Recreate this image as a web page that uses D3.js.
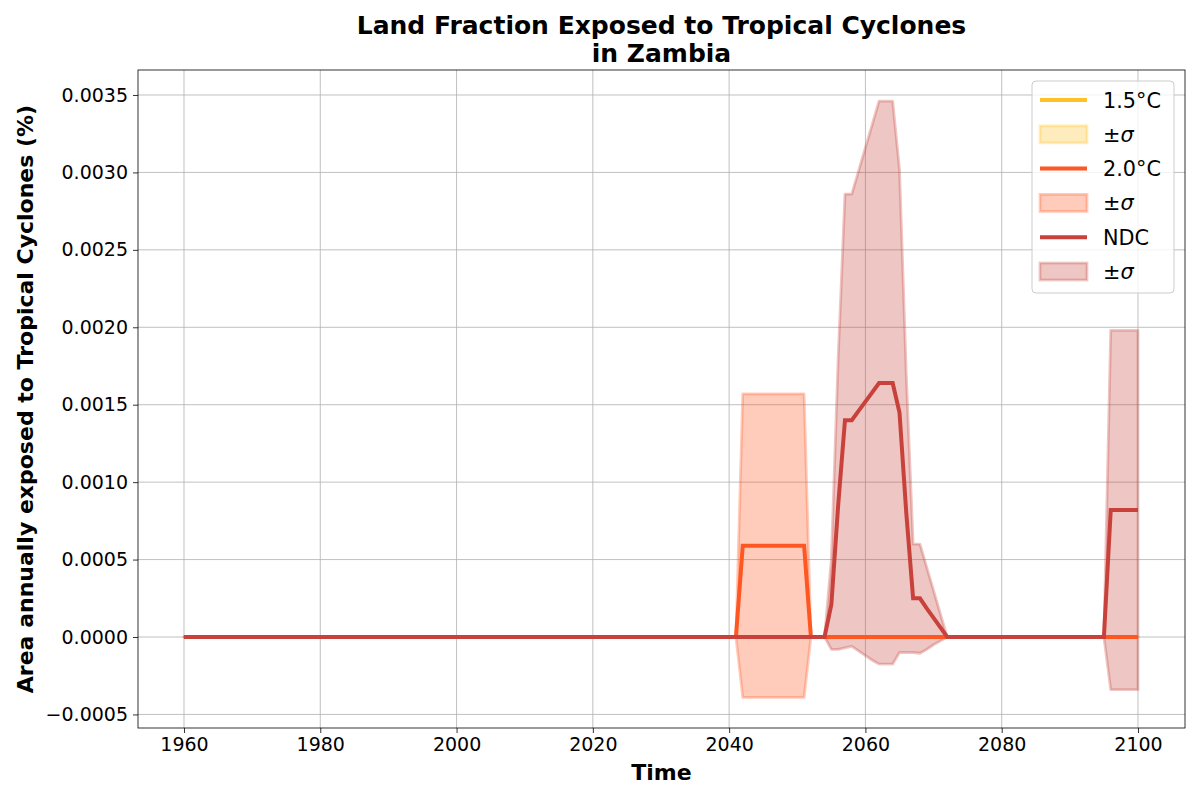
<!DOCTYPE html>
<html>
<head>
<meta charset="utf-8">
<script src="https://cdn.jsdelivr.net/npm/d3@7"></script>
<style>
  body { margin: 0; background: #fff; }
  text { font-family: "DejaVu Sans", sans-serif; }
</style>
</head>
<body>
<div id="chart"></div>
<script>
// 1.5°C: zero everywhere (hidden under the other series)
const years15 = [1960, 2100];
const mean15 = [0, 0];
const upper15 = [0, 0];
const lower15 = [0, 0];

// 2.0°C
const years20 = [1960, 2041, 2042, 2043, 2044, 2045, 2046, 2047, 2048, 2049, 2050, 2051, 2052, 2100];
const mean20 = [0, 0, 0.00059, 0.00059, 0.00059, 0.00059, 0.00059, 0.00059, 0.00059, 0.00059, 0.00059, 0.00059, 0, 0];
const upper20 = [0, 0, 0.00157, 0.00157, 0.00157, 0.00157, 0.00157, 0.00157, 0.00157, 0.00157, 0.00157, 0.00157, 0, 0];
const lower20 = [0, 0, -0.00039, -0.00039, -0.00039, -0.00039, -0.00039, -0.00039, -0.00039, -0.00039, -0.00039, -0.00039, 0, 0];

// NDC
const yearsNdc = [1960, 2054, 2055, 2056, 2057, 2058, 2059, 2060, 2061, 2062, 2063, 2064, 2065, 2066, 2067, 2068, 2069, 2070, 2071, 2072, 2095, 2096, 2097, 2098, 2099, 2100];
const meanNdc = [0, 0, 0.00021, 0.00085, 0.0014, 0.0014, 0.00146, 0.00152, 0.00158, 0.00164, 0.00164, 0.00164, 0.00145, 0.0008, 0.00025, 0.00025, 0.000185, 0.000124, 0.000062, 0, 0, 0.00082, 0.00082, 0.00082, 0.00082, 0.00082];
const upperNdc = [0, 0, 0.0005, 0.0018, 0.00286, 0.00286, 0.00301, 0.00316, 0.00331, 0.00346, 0.00346, 0.00346, 0.00302, 0.00169, 0.0006, 0.0006, 0.00045, 0.0003, 0.00015, 0, 0, 0.00198, 0.00198, 0.00198, 0.00198, 0.00198];
const lowerNdc = [0, 0, -0.00008, -0.00008, -0.00007, -0.00006, -0.00009, -0.00012, -0.00015, -0.000175, -0.000175, -0.000175, -0.0001, -0.0001, -0.0001, -0.000105, -0.00008, -0.00005, -0.000025, 0, 0, -0.00034, -0.00034, -0.00034, -0.00034, -0.00034];

const xTicks = [1960, 1980, 2000, 2020, 2040, 2060, 2080, 2100];
const yTicks = [-0.0005, 0, 0.0005, 0.001, 0.0015, 0.002, 0.0025, 0.003, 0.0035];

const seriesNames = ["1.5°C", "2.0°C", "NDC"];
const seriesColors = ["#ffc125", "#ff5722", "#c8413a"];

const series = [
  { name: seriesNames[0], color: seriesColors[0], years: years15, mean: mean15, upper: upper15, lower: lower15 },
  { name: seriesNames[1], color: seriesColors[1], years: years20, mean: mean20, upper: upper20, lower: lower20 },
  { name: seriesNames[2], color: seriesColors[2], years: yearsNdc, mean: meanNdc, upper: upperNdc, lower: lowerNdc },
];

const width = 1200, height = 800;
const margin = { top: 70, right: 15, bottom: 72, left: 138 };
const innerW = width - margin.left - margin.right;
const innerH = height - margin.top - margin.bottom;

const svg = d3.select("#chart").append("svg")
  .attr("width", width)
  .attr("height", height);

const g = svg.append("g")
  .attr("transform", "translate(" + margin.left + "," + margin.top + ")");

const x = d3.scaleLinear().domain([1953.25, 2106.9]).range([0, innerW]);
const y = d3.scaleLinear().domain([-0.0005876, 0.0036614]).range([innerH, 0]);

// grid
g.append("g")
  .selectAll("line")
  .data(xTicks)
  .enter()
  .append("line")
  .attr("x1", (d) => x(d)).attr("x2", (d) => x(d))
  .attr("y1", 0).attr("y2", innerH)
  .attr("stroke", "#b0b0b0").attr("stroke-width", 0.8);

g.append("g")
  .selectAll("line")
  .data(yTicks)
  .enter()
  .append("line")
  .attr("x1", 0).attr("x2", innerW)
  .attr("y1", (d) => y(d)).attr("y2", (d) => y(d))
  .attr("stroke", "#b0b0b0").attr("stroke-width", 0.8);

const area = d3.area()
  .x((d) => x(d.year))
  .y0((d) => y(d.lo))
  .y1((d) => y(d.hi));

const line = d3.line()
  .x((d) => x(d.year))
  .y((d) => y(d.v));

// bands first, lines on top
series.forEach(function (s) {
  const pts = s.years.map((yr, i) => ({ year: yr, lo: s.lower[i], hi: s.upper[i] }));
  g.append("path")
    .attr("d", area(pts))
    .attr("fill", s.color)
    .attr("fill-opacity", 0.3)
    .attr("stroke", s.color)
    .attr("stroke-opacity", 0.3)
    .attr("stroke-width", 2.8)
    .attr("stroke-linejoin", "round");
});

series.forEach(function (s) {
  const pts = s.years.map((yr, i) => ({ year: yr, v: s.mean[i] }));
  g.append("path")
    .attr("d", line(pts))
    .attr("fill", "none")
    .attr("stroke", s.color)
    .attr("stroke-width", 4)
    .attr("stroke-linecap", "butt");
});

// axes
const xAxis = g.append("g")
  .attr("transform", "translate(0," + innerH + ")")
  .call(d3.axisBottom(x).tickValues(xTicks).tickFormat(d3.format("d")).tickSize(5).tickPadding(5));
const yAxis = g.append("g")
  .call(d3.axisLeft(y).tickValues(yTicks).tickFormat((d) => d === 0 ? "0.0000" : d3.format(".4f")(d)).tickSize(5).tickPadding(5));

[xAxis, yAxis].forEach(function (a) {
  a.select(".domain").remove();
  a.selectAll(".tick line").attr("stroke", "#000").attr("stroke-width", 0.8);
  a.selectAll(".tick text")
    .attr("fill", "#000")
    .style("font-family", "DejaVu Sans")
    .style("font-size", "19px");
});

// frame
g.append("rect")
  .attr("width", innerW).attr("height", innerH)
  .attr("fill", "none").attr("stroke", "#000").attr("stroke-width", 0.8);

// labels
svg.append("text")
  .attr("x", margin.left + innerW / 2)
  .attr("y", 780)
  .attr("text-anchor", "middle")
  .style("font-size", "22px").style("font-weight", "bold")
  .text("Time");

svg.append("text")
  .attr("transform", "rotate(-90)")
  .attr("x", -(margin.top + innerH / 2))
  .attr("y", 33)
  .attr("text-anchor", "middle")
  .style("font-size", "22px").style("font-weight", "bold")
  .text("Area annually exposed to Tropical Cyclones (%)");

const title = svg.append("text")
  .attr("text-anchor", "middle")
  .style("font-size", "25px").style("font-weight", "bold");
title.append("tspan").attr("x", margin.left + innerW / 2).attr("y", 34)
  .text("Land Fraction Exposed to Tropical Cyclones");
title.append("tspan").attr("x", margin.left + innerW / 2).attr("y", 62)
  .text("in Zambia");

// legend
const legend = svg.append("g").attr("transform", "translate(1032,81)");
legend.append("rect")
  .attr("width", 142).attr("height", 212)
  .attr("rx", 4)
  .attr("fill", "#fff").attr("fill-opacity", 0.8)
  .attr("stroke", "#cccccc").attr("stroke-width", 1);

series.forEach(function (s, i) {
  const ly = 19 + i * 2 * 34.3;
  const py = ly + 34.3;
  legend.append("line")
    .attr("x1", 8).attr("x2", 55)
    .attr("y1", ly).attr("y2", ly)
    .attr("stroke", s.color).attr("stroke-width", 4);
  legend.append("text")
    .attr("x", 71).attr("y", ly + 7.5)
    .style("font-size", "20.8px")
    .text(s.name);
  legend.append("rect")
    .attr("x", 8).attr("y", py - 8.5)
    .attr("width", 47).attr("height", 17)
    .attr("fill", s.color).attr("fill-opacity", 0.3)
    .attr("stroke", s.color).attr("stroke-opacity", 0.3)
    .attr("stroke-width", 2.8);
  const t = legend.append("text")
    .attr("x", 71).attr("y", py + 7.5)
    .style("font-size", "20.8px");
  t.append("tspan").text("±");
  t.append("tspan").style("font-style", "italic").text("σ");
});
</script>
</body>
</html>
